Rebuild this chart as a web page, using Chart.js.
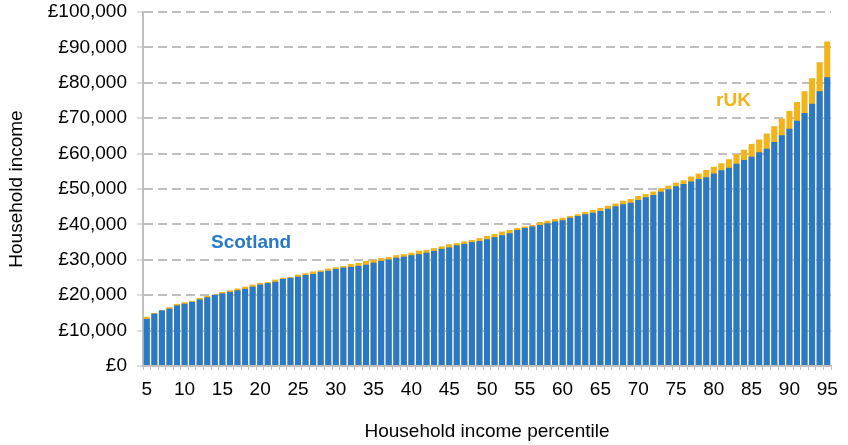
<!DOCTYPE html>
<html>
<head>
<meta charset="utf-8">
<script src="https://cdn.jsdelivr.net/npm/chart.js@4.4.1/dist/chart.umd.min.js"></script>
<style>
html, body { margin: 0; padding: 0; background: #fff; }
#wrap { width: 848px; height: 445px; }
</style>
</head>
<body>
<div id="wrap"><canvas id="incomeChart" width="848" height="445"></canvas></div>
<script>
// household income percentile, 5 to 95
const percentiles = [5, 6, 7, 8, 9, 10, 11, 12, 13, 14, 15, 16, 17, 18, 19, 20, 21, 22, 23, 24, 25,
  26, 27, 28, 29, 30, 31, 32, 33, 34, 35, 36, 37, 38, 39, 40, 41, 42, 43, 44, 45, 46, 47, 48, 49, 50,
  51, 52, 53, 54, 55, 56, 57, 58, 59, 60, 61, 62, 63, 64, 65, 66, 67, 68, 69, 70, 71, 72, 73, 74, 75,
  76, 77, 78, 79, 80, 81, 82, 83, 84, 85, 86, 87, 88, 89, 90, 91, 92, 93, 94, 95];

// £ per year
const scotland = [13300, 14800, 15700, 16200, 17100, 17600, 18100, 18800, 19400, 20100, 20500,
  20900, 21400, 21800, 22400, 23000, 23400, 23800, 24600, 24900, 25200, 25700, 26000, 26600, 26900,
  27400, 27800, 28000, 28300, 28600, 29200, 29700, 30100, 30600, 30900, 31300, 31600, 32000, 32500,
  33100, 33500, 34100, 34500, 35000, 35300, 35800, 36400, 36900, 37500, 38400, 39000, 39400, 39800,
  40300, 40800, 41200, 41900, 42400, 42900, 43300, 43800, 44400, 45100, 45700, 46100, 46900, 47700,
  48300, 49200, 49900, 50800, 51400, 52100, 52800, 53300, 54400, 55300, 56000, 57100, 58200, 59100,
  60400, 61400, 63300, 65200, 67000, 69300, 71500, 74100, 77600, 81600];

const rUK = [13900, 15000, 15800, 16600, 17500, 18000, 18400, 19200, 19800, 20200, 20900,
  21400, 21900, 22400, 23000, 23500, 23700, 24400, 24900, 25100, 25800, 26200, 26700, 27000, 27500,
  27900, 28200, 28800, 29100, 29700, 30000, 30500, 30800, 31300, 31600, 32000, 32600, 32800, 33300,
  33800, 34400, 34700, 35200, 35600, 36100, 36700, 37300, 38000, 38400, 39000, 39400, 39800, 40700,
  41000, 41500, 41900, 42400, 42900, 43500, 44100, 44600, 45300, 45900, 46700, 47200, 48000, 48600,
  49300, 50200, 50900, 51800, 52500, 53500, 54400, 55400, 56300, 57300, 58400, 59800, 61100, 62700,
  64000, 65700, 67700, 69900, 72000, 74600, 77600, 81300, 85800, 91700];

const yTicks = [0, 10000, 20000, 30000, 40000, 50000, 60000, 70000, 80000, 90000, 100000];

const blue = "#2979c9";
const gold = "#f2b418";
const gridGrey = "#bfbfbf";
const fontFamily = "'Liberation Sans', Arial, sans-serif";

// series names written inside the plot
const seriesLabels = {
  id: "seriesLabels",
  afterDatasetsDraw(chart) {
    const { ctx, scales: { x, y } } = chart;
    ctx.save();
    ctx.font = "bold 19px " + fontFamily;
    ctx.textAlign = "center";
    ctx.textBaseline = "middle";
    ctx.fillStyle = blue;
    ctx.fillText("Scotland", x.getPixelForValue(13.8), y.getPixelForValue(34700));
    ctx.fillStyle = gold;
    ctx.fillText("rUK", x.getPixelForValue(77.6), y.getPixelForValue(74900));
    ctx.restore();
  }
};

new Chart(document.getElementById("incomeChart").getContext("2d"), {
  type: "bar",
  data: {
    labels: percentiles,
    datasets: [
      { label: "Scotland", data: scotland, backgroundColor: blue, grouped: false,
        barPercentage: 0.8, categoryPercentage: 1 },
      { label: "rUK", data: rUK, backgroundColor: gold, grouped: false,
        barPercentage: 0.8, categoryPercentage: 1 }
    ]
  },
  options: {
    responsive: false,
    animation: false,
    layout: { padding: { left: 0, right: 17, top: 12, bottom: 0 } },
    plugins: {
      legend: { display: false },
      tooltip: { enabled: false }
    },
    scales: {
      x: {
        afterFit: (s) => { s.height = 79; },
        grid: { drawOnChartArea: false, drawTicks: true, tickLength: 4, tickColor: gridGrey, tickWidth: 1, offset: true },
        border: { display: true, color: gridGrey, width: 2 },
        ticks: {
          autoSkip: false, maxRotation: 0, padding: 8, color: "#000",
          font: { family: fontFamily, size: 19 },
          callback: function (v, i) {
            return percentiles[i] % 5 === 0 ? String(percentiles[i]) : "";
          }
        },
        title: {
          display: true, text: "Household income percentile", color: "#000",
          font: { family: fontFamily, size: 19 },
          padding: { top: 0, bottom: 2 }
        }
      },
      y: {
        min: 0,
        max: 100000,
        afterFit: (s) => { s.width = 143; s.paddingTop = 0; s.paddingBottom = 0; },
        afterBuildTicks: (s) => { s.ticks = yTicks.map(v => ({ value: v })); },
        grid: { color: gridGrey, lineWidth: 2, drawTicks: true, tickLength: 6, tickColor: gridGrey, tickWidth: 1, tickBorderDash: [] },
        border: { display: true, color: gridGrey, width: 2, dash: [9, 5] },
        ticks: {
          padding: 10, color: "#000",
          font: { family: fontFamily, size: 19 },
          callback: (v) => "£" + v.toLocaleString("en-GB")
        },
        title: {
          display: true, text: "Household income", color: "#000",
          font: { family: fontFamily, size: 19 },
          padding: { top: 5, bottom: 0 }
        }
      }
    }
  },
  plugins: [seriesLabels]
});
</script>
</body>
</html>
